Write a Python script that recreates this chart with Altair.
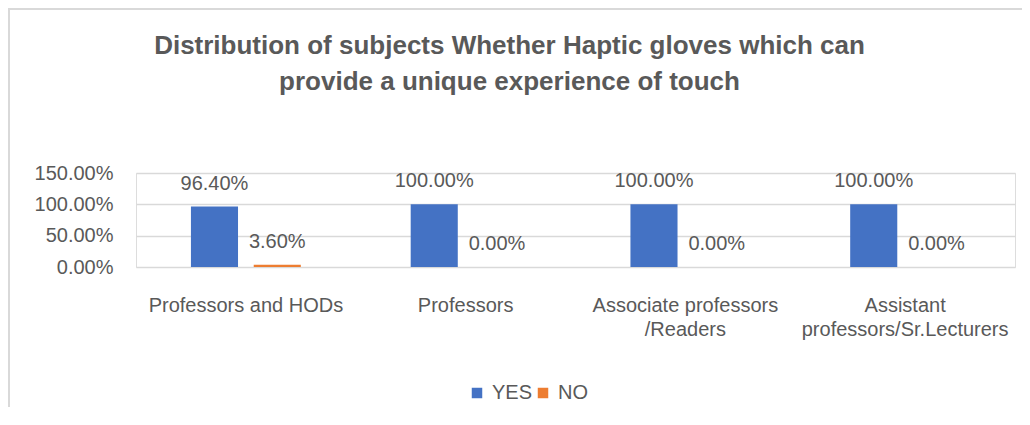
import altair as alt
import pandas as pd

categories = ["Professors and HODs", "Professors", "Associate professors /Readers",
              "Assistant professors/Sr.Lecturers"]
yes_values = [0.964, 1.0, 1.0, 1.0]
no_values = [0.036, 0.0, 0.0, 0.0]
series = ["YES", "NO"]
colors = ["#4472C4", "#ED7D31"]
y_ticks = [0, 0.5, 1.0, 1.5]

rows = []
for c, y, n in zip(categories, yes_values, no_values):
    rows.append({"category": c, "series": "YES", "value": y})
    rows.append({"category": c, "series": "NO", "value": n})
df = pd.DataFrame(rows)

FONT = "Liberation Sans, Arial, sans-serif"
TXT = "#595959"
FS = 20

label_expr = ("datum.label == 'Associate professors /Readers' ? ['Associate professors', '/Readers'] : "
              "datum.label == 'Assistant professors/Sr.Lecturers' ? ['Assistant', 'professors/Sr.Lecturers'] : datum.label")

x = alt.X("category:N", sort=categories, title=None,
          scale=alt.Scale(paddingInner=0.5, paddingOuter=0.25),
          axis=alt.Axis(labelAngle=0, labelExpr=label_expr, labelFont=FONT, labelFontSize=FS,
                        labelColor=TXT, ticks=False, domain=False, labelPadding=28,
                        labelLineHeight=24, labelLimit=400))
xo = alt.XOffset("series:N", sort=series, scale=alt.Scale(paddingInner=0.25))
y = alt.Y("value:Q", title=None,
          scale=alt.Scale(domain=[0, 1.5], nice=False),
          axis=alt.Axis(values=y_ticks, format=".2%", labelFont=FONT, labelFontSize=FS,
                        labelColor=TXT, ticks=False, domain=False, labelPadding=23,
                        gridColor="#D9D9D9", gridWidth=1.5))

base = alt.Chart(df)
bars = base.mark_bar().encode(
    x=x, xOffset=xo, y=y,
    color=alt.Color("series:N", sort=series,
                    scale=alt.Scale(domain=series, range=colors),
                    legend=alt.Legend(title=None, orient="none", direction="horizontal",
                                      legendX=331, legendY=210, symbolType="square",
                                      symbolSize=110, symbolStrokeWidth=0,
                                      labelFont=FONT, labelFontSize=FS, labelColor=TXT,
                                      labelOffset=5, columnPadding=0)),
)
labels = base.mark_text(font=FONT, fontSize=FS, color=TXT, baseline="middle", dy=-23).encode(
    x=x, xOffset=xo, y=y,
    text=alt.Text("value:Q", format=".2%"),
)

# chart frame (decorative border, left and top edges)
frame_left = alt.Chart(pd.DataFrame({"k": [0]})).mark_rule(color="#D9D9D9", strokeWidth=2).encode(
    x=alt.value(-127), y=alt.value(-164), y2=alt.value(262))
frame_top = alt.Chart(pd.DataFrame({"k": [0]})).mark_rule(color="#D9D9D9", strokeWidth=2).encode(
    x=alt.value(-128), x2=alt.value(900), y=alt.value(-164))

chart = alt.layer(frame_left, frame_top, bars, labels).properties(
    width=879, height=94,
    title=alt.TitleParams(
        text=["Distribution of subjects Whether Haptic gloves which can",
              "provide a unique experience of touch"],
        font=FONT, fontSize=26, fontWeight="bold", color=TXT,
        anchor="middle", frame="group", dx=-66, offset=-87, lineHeight=36,
    ),
    autosize=alt.AutoSizeParams(type="none"),
    padding={"left": 128, "top": 165, "right": 7, "bottom": 140},
).configure_view(stroke=None).configure(background="white")

chart.save("out.html", embed_options={"renderer": "svg", "actions": False})
